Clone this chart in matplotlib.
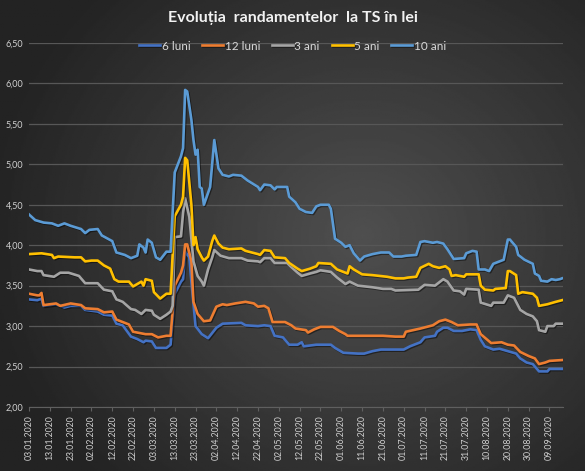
import numpy as np
import pandas as pd
import matplotlib
matplotlib.use("Agg")
import matplotlib.pyplot as plt
import matplotlib.dates as mdates
import matplotlib.patheffects as pe
from matplotlib.ticker import FuncFormatter

plt.rcParams["font.family"] = ["Lato", "DejaVu Sans"]

START = pd.Timestamp("2020-01-03")

# days after 03.01.2020 and yields (%)
days_6m = [0, 4, 6, 7, 13, 17, 20, 25, 27, 33, 36, 40, 42, 45, 49, 52, 55, 56, 59, 61, 66, 68, 70, 73, 74, 75, 77, 78, 80, 83,
           86, 90, 93, 102, 104, 110, 113, 116, 118, 122, 125, 129, 131, 132, 138, 145, 147, 151, 158, 161, 165, 169, 180,
           183, 188, 190, 195, 196, 199, 201, 204, 208, 212, 215, 217, 219, 223, 226, 230, 234, 236, 239, 242, 245, 249,
           250, 256]
yield_6m = [3.33, 3.32, 3.34, 3.25, 3.27, 3.23, 3.25, 3.25, 3.20, 3.18, 3.14, 3.13, 3.03, 3.01, 2.87, 2.84, 2.80, 2.82, 2.81,
            2.73, 2.73, 2.77, 3.40, 3.55, 3.58, 3.92, 3.85, 3.55, 3.00, 2.90, 2.85, 2.98, 3.03, 3.04, 3.01, 3.00, 3.01, 3.00,
            2.88, 2.86, 2.77, 2.77, 2.80, 2.75, 2.77, 2.77, 2.73, 2.67, 2.66, 2.66, 2.69, 2.71, 2.71, 2.75, 2.80, 2.86, 2.88,
            2.93, 2.98, 2.98, 2.94, 2.94, 2.96, 2.95, 2.83, 2.75, 2.71, 2.72, 2.69, 2.66, 2.60, 2.55, 2.53, 2.44, 2.44, 2.47,
            2.47]

days_12m = [0, 4, 5, 6, 7, 13, 15, 20, 25, 27, 33, 36, 40, 42, 45, 48, 50, 54, 56, 59, 62, 66, 68, 70, 73, 74, 75, 76, 78,
            79, 81, 84, 87, 90, 93, 95, 99, 104, 108, 110, 113, 115, 117, 123, 126, 128, 133, 134, 137, 140, 146, 149, 152,
            153, 158, 165, 170, 176, 180, 181, 188, 194, 197, 200, 203, 206, 212, 215, 217, 222, 227, 230, 233, 236, 240,
            243, 245, 248, 250, 256]
yield_12m = [3.40, 3.38, 3.38, 3.41, 3.26, 3.28, 3.25, 3.28, 3.26, 3.22, 3.21, 3.17, 3.18, 3.08, 3.05, 3.02, 2.93, 2.91,
             2.90, 2.90, 2.86, 2.88, 2.88, 3.50, 3.66, 3.75, 4.01, 4.01, 3.80, 3.30, 3.15, 3.06, 3.07, 3.24, 3.27, 3.26,
             3.28, 3.30, 3.28, 3.24, 3.25, 3.22, 3.05, 3.05, 3.01, 2.97, 2.95, 2.92, 2.96, 2.99, 2.99, 2.94, 2.90, 2.88,
             2.88, 2.88, 2.88, 2.87, 2.87, 2.93, 2.97, 3.01, 3.06, 3.08, 3.05, 3.01, 3.02, 3.02, 2.90, 2.79, 2.80, 2.77,
             2.76, 2.68, 2.63, 2.60, 2.53, 2.55, 2.57, 2.58]

days_3y = [0, 4, 6, 7, 12, 15, 19, 24, 27, 33, 36, 40, 42, 45, 49, 51, 54, 56, 59, 60, 63, 66, 68, 69, 70, 73, 74, 75, 77,
           79, 81, 83, 84, 86, 88, 89, 92, 96, 102, 105, 110, 111, 113, 116, 118, 124, 126, 129, 131, 135, 138, 140, 145,
           148, 152, 154, 158, 165, 170, 174, 176, 187, 190, 195, 199, 201, 204, 207, 209, 210, 216, 217, 222, 223, 228,
           230, 233, 236, 239, 242, 244, 245, 248, 249, 252, 253, 256]
yield_3y = [3.70, 3.68, 3.68, 3.63, 3.61, 3.66, 3.66, 3.62, 3.53, 3.53, 3.45, 3.43, 3.33, 3.30, 3.21, 3.20, 3.15, 3.20,
            3.19, 3.14, 3.09, 3.14, 3.18, 3.25, 4.10, 4.11, 4.40, 4.58, 4.35, 3.80, 3.62, 3.55, 3.50, 3.70, 3.85, 3.94,
            3.87, 3.84, 3.84, 3.81, 3.80, 3.79, 3.84, 3.84, 3.78, 3.78, 3.73, 3.66, 3.62, 3.65, 3.67, 3.69, 3.67, 3.60,
            3.52, 3.55, 3.50, 3.48, 3.46, 3.46, 3.44, 3.45, 3.51, 3.50, 3.58, 3.55, 3.44, 3.43, 3.39, 3.46, 3.45, 3.29,
            3.25, 3.29, 3.29, 3.38, 3.35, 3.20, 3.15, 3.12, 3.06, 2.95, 2.93, 3.00, 3.00, 3.03, 3.03]

days_5y = [0, 6, 11, 12, 14, 22, 25, 27, 30, 33, 36, 39, 41, 43, 48, 50, 52, 54, 55, 56, 59, 60, 63, 66, 68, 70, 73, 74,
           75, 76, 78, 79, 80, 81, 83, 84, 86, 88, 89, 91, 93, 96, 102, 104, 110, 111, 113, 116, 118, 123, 125, 129, 131,
           135, 138, 139, 145, 148, 151, 153, 154, 156, 160, 165, 172, 176, 180, 182, 186, 188, 192, 194, 197, 200, 202,
           203, 205, 209, 210, 216, 217, 219, 223, 224, 229, 230, 231, 234, 235, 237, 242, 244, 245, 249, 253, 256]
yield_5y = [3.89, 3.90, 3.88, 3.84, 3.86, 3.85, 3.85, 3.80, 3.81, 3.81, 3.75, 3.71, 3.58, 3.55, 3.55, 3.49, 3.52, 3.55,
            3.50, 3.58, 3.56, 3.42, 3.34, 3.40, 3.40, 4.36, 4.50, 4.60, 5.08, 5.05, 4.50, 4.00, 4.10, 3.95, 3.85, 3.81,
            3.86, 4.05, 4.12, 4.02, 3.97, 3.95, 3.96, 3.93, 3.89, 3.88, 3.94, 3.93, 3.85, 3.84, 3.78, 3.71, 3.68, 3.71,
            3.74, 3.78, 3.77, 3.70, 3.67, 3.65, 3.74, 3.70, 3.64, 3.63, 3.61, 3.59, 3.59, 3.60, 3.61, 3.72, 3.77, 3.74,
            3.72, 3.74, 3.70, 3.62, 3.63, 3.61, 3.64, 3.64, 3.50, 3.45, 3.44, 3.46, 3.47, 3.68, 3.68, 3.63, 3.40, 3.42,
            3.40, 3.35, 3.25, 3.27, 3.30, 3.32]

days_10y = [0, 3, 7, 11, 14, 17, 20, 25, 27, 29, 33, 35, 40, 42, 46, 49, 52, 53, 55, 56, 57, 59, 61, 63, 66, 68, 70, 73,
            74, 75, 76, 78, 79, 80, 81, 82, 83, 84, 87, 89, 91, 93, 96, 98, 102, 105, 110, 111, 113, 116, 118, 119, 124,
            125, 128, 130, 133, 136, 138, 140, 144, 145, 147, 150, 152, 154, 156, 159, 161, 165, 169, 173, 175, 179, 181,
            186, 188, 190, 194, 196, 199, 201, 204, 209, 210, 213, 215, 216, 219, 221, 223, 226, 228, 230, 231, 234, 235,
            238, 242, 243, 245, 246, 249, 251, 253, 255, 256]
yield_10y = [4.38, 4.31, 4.28, 4.27, 4.24, 4.27, 4.24, 4.20, 4.15, 4.19, 4.20, 4.12, 4.05, 3.91, 3.88, 3.84, 3.87, 4.01,
             3.97, 3.91, 4.07, 4.03, 3.85, 3.82, 3.92, 3.92, 4.90, 5.10, 5.20, 5.92, 5.90, 5.55, 5.30, 5.12, 5.18, 4.72,
             4.70, 4.50, 4.72, 5.30, 4.95, 4.87, 4.85, 4.87, 4.86, 4.80, 4.72, 4.68, 4.75, 4.74, 4.69, 4.72, 4.72, 4.60,
             4.53, 4.45, 4.41, 4.40, 4.48, 4.50, 4.50, 4.45, 4.08, 4.03, 3.98, 4.00, 3.90, 3.81, 3.86, 3.89, 3.91, 3.91,
             3.86, 3.86, 3.87, 3.88, 4.04, 4.05, 4.03, 4.04, 4.02, 3.95, 3.83, 3.84, 3.90, 3.93, 3.92, 3.70, 3.70, 3.68,
             3.77, 3.80, 3.82, 4.07, 4.07, 3.98, 3.88, 3.82, 3.77, 3.65, 3.62, 3.56, 3.55, 3.58, 3.57, 3.58, 3.59]

series = [
    ("6 luni", days_6m, yield_6m, "#4472C4"),
    ("12 luni", days_12m, yield_12m, "#ED7D31"),
    ("3 ani", days_3y, yield_3y, "#A5A5A5"),
    ("5 ani", days_5y, yield_5y, "#FFC000"),
    ("10 ani", days_10y, yield_10y, "#5B9BD5"),
]

fig = plt.figure(figsize=(5.85, 4.71), dpi=100)

# dark radial background
bg = fig.add_axes([0, 0, 1, 1], zorder=-1)
yy, xx = np.mgrid[0:1:300j, 0:1:400j]
r = np.sqrt(((xx - 0.62) / 0.75) ** 2 + ((yy - 0.5) / 0.85) ** 2)
shade = np.clip(0.31 - 0.20 * r, 0.14, 0.31)
bg.imshow(shade, cmap="gray", vmin=0, vmax=1, aspect="auto", extent=[0, 1, 0, 1])
bg.axis("off")

ax = fig.add_axes([0.0496, 0.1359, 0.9128, 0.7728])
ax.set_facecolor("none")

shadow = [pe.SimpleLineShadow(offset=(0.8, -0.8), shadow_color="black", alpha=0.45), pe.Normal()]
for name, d, v, c in series:
    x = START + pd.to_timedelta(d, unit="D")
    ax.plot(x, v, color=c, lw=1.9, label=name, solid_joinstyle="round", path_effects=shadow)

ax.set_ylim(2.0, 6.5)
ax.set_yticks(np.arange(2.0, 6.51, 0.5))
ax.yaxis.set_major_formatter(FuncFormatter(lambda v, p: f"{v:.2f}".replace(".", ",")))
ax.grid(axis="y", color="#575757", lw=0.9)
ax.set_axisbelow(True)

ticks = pd.date_range(START, periods=26, freq="10D")
ax.set_xticks(ticks)
ax.xaxis.set_major_formatter(mdates.DateFormatter("%d.%m.%Y"))
ax.set_xlim(START, START + pd.Timedelta(days=256.5))

for s in ["top", "right", "left"]:
    ax.spines[s].set_visible(False)
ax.spines["bottom"].set_color("#5f5f5f")
ax.tick_params(axis="y", length=0, labelsize=6.5, labelcolor="#d0d0d0", pad=4)
ax.tick_params(axis="x", length=3, color="#5f5f5f", labelsize=6.3, labelcolor="#d0d0d0", rotation=90, pad=3)

fig.text(0.5, 0.962, "Evoluția  randamentelor  la TS în lei", ha="center", va="center",
         color="#f2f2f2", fontsize=11.5, fontweight="bold")

leg = fig.legend(loc="center", bbox_to_anchor=(0.5, 1 - 46 / 471), ncol=5, frameon=False,
                 fontsize=8.5, handlelength=1.8, handletextpad=0.1, columnspacing=1.0)
for t in leg.get_texts():
    t.set_color("#d9d9d9")

fig.savefig("out.png", dpi=100)
